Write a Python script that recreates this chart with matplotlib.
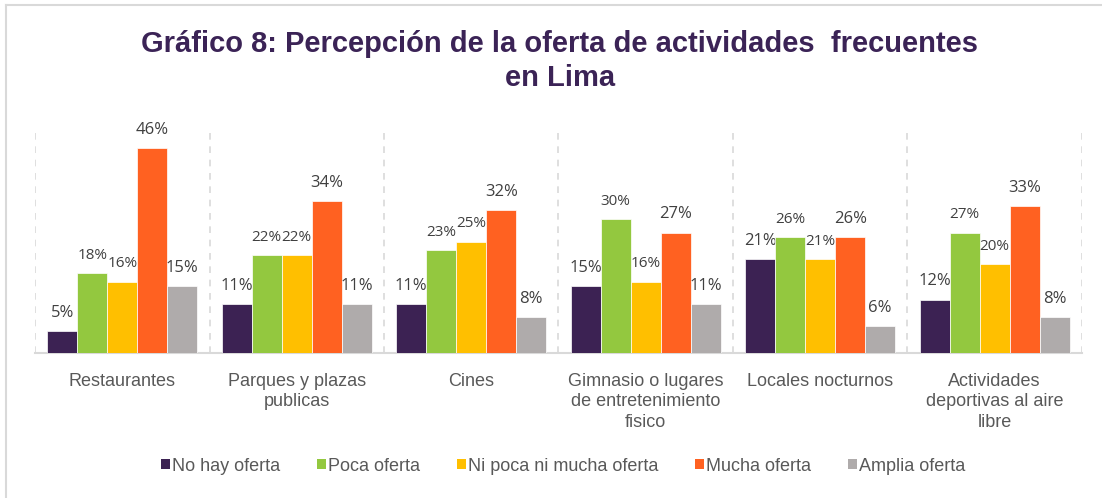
import numpy as np
import matplotlib
matplotlib.use('Agg')
from matplotlib import pyplot as plt
from matplotlib.lines import Line2D
from matplotlib.patches import Patch

categories = ['Restaurantes', 'Parques y plazas\npublicas', 'Cines',
              'Gimnasio o lugares\nde entretenimiento\nfisico', 'Locales nocturnos',
              'Actividades\ndeportivas al aire\nlibre']
series = ['No hay oferta', 'Poca oferta', 'Ni poca ni mucha oferta', 'Mucha oferta', 'Amplia oferta']
no_hay = [5, 11, 11, 15, 21, 12]
poca = [18, 22, 23, 30, 26, 27]
ni_poca = [16, 22, 25, 16, 21, 20]
mucha = [46, 34, 32, 27, 26, 33]
amplia = [15, 11, 8, 11, 6, 8]
values = [no_hay, poca, ni_poca, mucha, amplia]

colors = ['#3C2253', '#93C83F', '#FFBF00', '#FF6121', '#AFABAB']
label_sizes = [12, 11, 11, 12, 12]

plt.rcParams['font.family'] = ['Liberation Sans', 'DejaVu Sans']

fig = plt.figure(figsize=(11.02, 4.98), dpi=100)
ax = fig.add_axes([0.0318, 0.291, 0.950, 0.448])

x = np.arange(len(categories))
w = 0.172
for i, vals in enumerate(values):
    pos = x + (i - 2) * w
    ax.bar(pos, vals, width=w, color=colors[i], edgecolor='white', linewidth=0.5, zorder=3)
    for p, v in zip(pos, vals):
        ax.text(p, v + 2.3, f'{v}%', ha='center', va='bottom',
                fontsize=label_sizes[i], color='#404040', family=['Open Sans', 'DejaVu Sans'])

for sep in np.arange(-0.5, len(categories), 1.0):
    ax.axvline(sep, color='#D9D9D9', linestyle=(0, (4, 4)), linewidth=1.2, zorder=1)

ax.set_xlim(-0.5, len(categories) - 0.5)
ax.set_ylim(0, 50)
ax.set_yticks([])
ax.set_xticks(x)
ax.set_xticklabels(categories, fontsize=13, color='#595959', linespacing=1.3)
ax.tick_params(axis='x', length=0, pad=14)
for s in ['top', 'right', 'left']:
    ax.spines[s].set_visible(False)
ax.spines['bottom'].set_color('#D9D9D9')
ax.spines['bottom'].set_linewidth(1.5)

fig.text(0.508, 0.94, 'Gráfico 8: Percepción de la oferta de actividades  frecuentes\nen Lima',
         ha='center', va='top', fontsize=21, fontweight='bold', color='#3B2356', linespacing=1.3)

handles = [Patch(facecolor=c, edgecolor='none') for c in colors]
fig.legend(handles, series, loc='center', bbox_to_anchor=(0.511, 0.064), ncol=5, frameon=False,
           fontsize=13, handlelength=0.5, handleheight=0.5, handletextpad=0.15, columnspacing=2.0,
           labelcolor='#595959')

fig.add_artist(Line2D([0.005, 1.0], [0.99, 0.99], color='#D9D9D9', linewidth=1.5, transform=fig.transFigure))
fig.add_artist(Line2D([0.005, 0.005], [0.0, 0.99], color='#D9D9D9', linewidth=1.5, transform=fig.transFigure))

fig.savefig('out.png', dpi=100)
